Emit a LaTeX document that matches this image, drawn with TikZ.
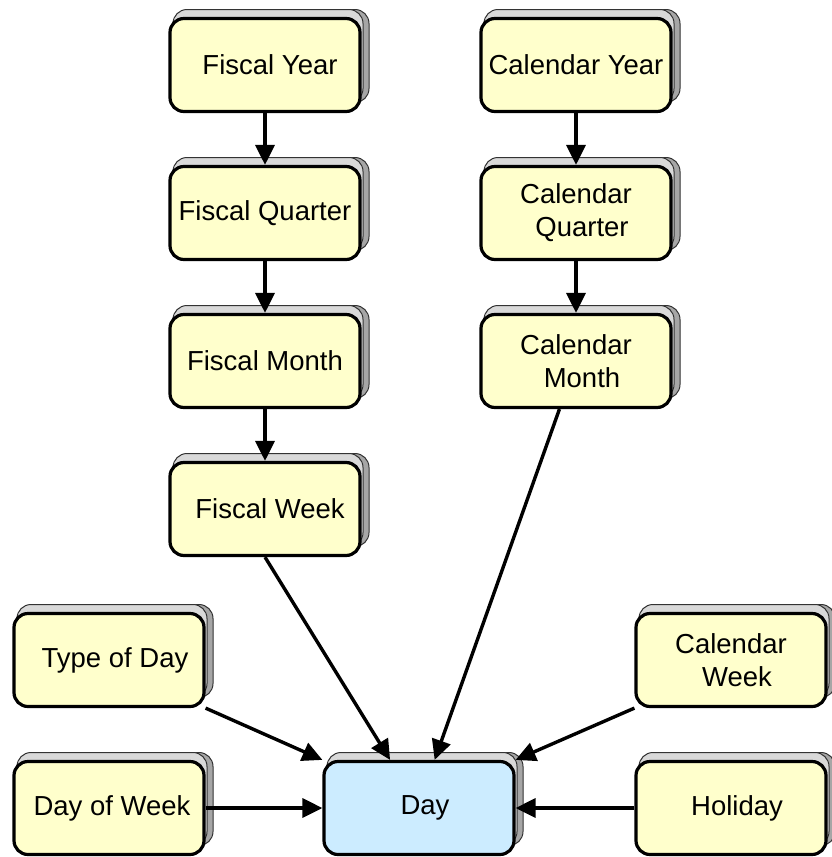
\documentclass[tikz,border=0pt]{standalone}
\usepackage{fontspec}
\setmainfont{Liberation Sans}
\usetikzlibrary{arrows.meta,shadows}
\definecolor{boxyellow}{HTML}{FFFFCC}
\definecolor{dayblue}{HTML}{CCECFF}
\begin{document}
\begin{tikzpicture}[x=1pt,y=-1pt,
  box/.style={draw=black, line width=3.2pt, rounded corners=14pt, fill=boxyellow,
    minimum width=190pt, minimum height=93pt, inner sep=0pt, align=center,
    font=\fontsize{27.5}{33}\selectfont,
    copy shadow={shadow xshift=9pt, shadow yshift=9pt, fill=gray!70, draw=gray!40!black, line width=1pt},
    copy shadow={shadow xshift=3pt, shadow yshift=9pt, fill=gray!30, draw=gray!40!black, line width=1pt}},
  link/.style={line width=3.4pt, -{Triangle[length=20pt,width=19pt]}}]
  \useasboundingbox (0,0) rectangle (831,857);

  % fiscal hierarchy
  \node[box] (fy) at (265,65)  {\hspace*{10pt}Fiscal Year};
  \node[box] (fq) at (265,213) {Fiscal Quarter};
  \node[box] (fm) at (265,361) {Fiscal Month};
  \node[box] (fw) at (265,509) {\hspace*{10pt}Fiscal Week};

  % calendar hierarchy
  \node[box] (cy) at (576,65)  {Calendar Year};
  \node[box] (cq) at (576,213) {Calendar\\ \hspace*{12pt}Quarter};
  \node[box] (cm) at (576,361) {Calendar\\ \hspace*{12pt}Month};

  % day attributes
  \node[box] (tod) at (109,660) {\hspace*{12pt}Type of Day};
  \node[box] (dow) at (109,808) {\hspace*{6pt}Day of Week};
  \node[box] (cw)  at (731,660) {Calendar\\ \hspace*{12pt}Week};
  \node[box] (hol) at (731,808) {\hspace*{12pt}Holiday};
  \node[box, fill=dayblue] (day) at (419,808) {\hspace*{12pt}Day};

  % connectors
  \draw[link] (fy) -- (fq);
  \draw[link] (fq) -- (fm);
  \draw[link] (fm) -- (fw);
  \draw[link] (cy) -- (cq);
  \draw[link] (cq) -- (cm);
  \draw[link] (fw.south) -- (day.121);
  \draw[link] (cm.251) -- (day.72);
  \draw[link] (tod.south east) -- (day.north west);
  \draw[link] (cw.south west) -- (day.north east);
  \draw[link] (dow) -- (day);
  \draw[link] (hol) -- (day);
\end{tikzpicture}
\end{document}
